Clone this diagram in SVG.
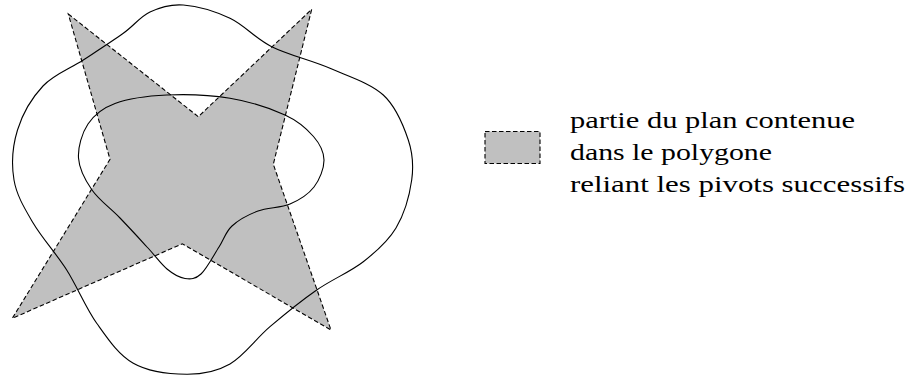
<svg xmlns="http://www.w3.org/2000/svg" width="917" height="378" viewBox="0 0 917 378">
<style>
.star{fill:#c0c0c0;stroke:#000;stroke-width:1.1;stroke-dasharray:4.5 2.5;stroke-linejoin:miter}
.curve{fill:none;stroke:#000;stroke-width:1.1}
.lbl{font-family:"Liberation Serif","Times New Roman","DejaVu Serif",serif;font-size:24px;fill:#000}
</style>
<rect width="917" height="378" fill="#fff"/>
<g id="polygon">
<polygon class="star" points="68.3,14 198.3,116.7 311.7,9.3 273.3,164.3 331,330 182.3,243.8 12.3,318.3 110,159.3"/>
</g>
<g id="outer-curve">
<path class="curve" d="M183.3,5 C196.6,6.05 215.3,11.35 230,18.3 C244.7,25.25 255,38.4 271.7,46.7 C288.4,55 311.4,60.25 330,68.3 C348.6,76.35 370.25,83.05 383.3,95 C396.35,106.95 403.57,125.83 408.3,140 C413.03,154.17 413.75,165.33 411.7,180 C409.65,194.67 404.07,214.38 396,228 C387.93,241.62 376.5,251.4 363.3,261.7 C350.1,272 332.25,279.17 316.7,290 C301.15,300.83 284.45,314.37 270,326.7 C255.55,339.03 243.9,356.07 230,364 C216.1,371.93 202.8,374.42 186.7,374.3 C170.6,374.18 148.3,371.8 133.3,363.3 C118.3,354.8 107.8,338.85 96.7,323.3 C85.6,307.75 77.27,286.67 66.7,270 C56.13,253.33 42.08,238.3 33.3,223.3 C24.52,208.3 16.63,195.55 14,180 C11.37,164.45 12.67,145.67 17.5,130 C22.33,114.33 32.03,97.67 43,86 C53.97,74.33 69.92,68.78 83.3,60 C96.68,51.22 112.18,41.3 123.3,33.3 C134.42,25.3 140,16.72 150,12 C160,7.28 170,3.95 183.3,5 Z"/>
</g>
<g id="inner-curve">
<path class="curve" d="M166.7,95 C185.87,94.13 210.28,94.97 230,98.3 C249.72,101.63 271.08,108.63 285,115 C298.92,121.37 307,129 313.5,136.5 C320,144 323.92,151.58 324,160 C324.08,168.42 319.67,179.67 314,187 C308.33,194.33 299.33,200 290,204 C280.67,208 267.67,207.33 258,211 C248.33,214.67 238.5,220 232,226 C225.5,232 224.17,239 219,247 C213.83,255 206.67,268.75 201,274 C195.33,279.25 190.67,279.33 185,278.5 C179.33,277.67 173.17,274.08 167,269 C160.83,263.92 155.83,256.5 148,248 C140.17,239.5 129.33,227.67 120,218 C110.67,208.33 98.92,200 92,190 C85.08,180 79.17,169 78.5,158 C77.83,147 81.92,133.08 88,124 C94.08,114.92 101.88,108.33 115,103.5 C128.12,98.67 147.53,95.87 166.7,95 Z"/>
</g>
<g id="legend">
<rect class="star" x="485" y="131.5" width="55" height="32"/>
<text class="lbl" x="570" y="128" textLength="285" lengthAdjust="spacingAndGlyphs">partie du plan contenue</text>
<text class="lbl" x="570" y="160" textLength="202" lengthAdjust="spacingAndGlyphs">dans le polygone</text>
<text class="lbl" x="570" y="192" textLength="335" lengthAdjust="spacingAndGlyphs">reliant les pivots successifs</text>
</g>
</svg>
